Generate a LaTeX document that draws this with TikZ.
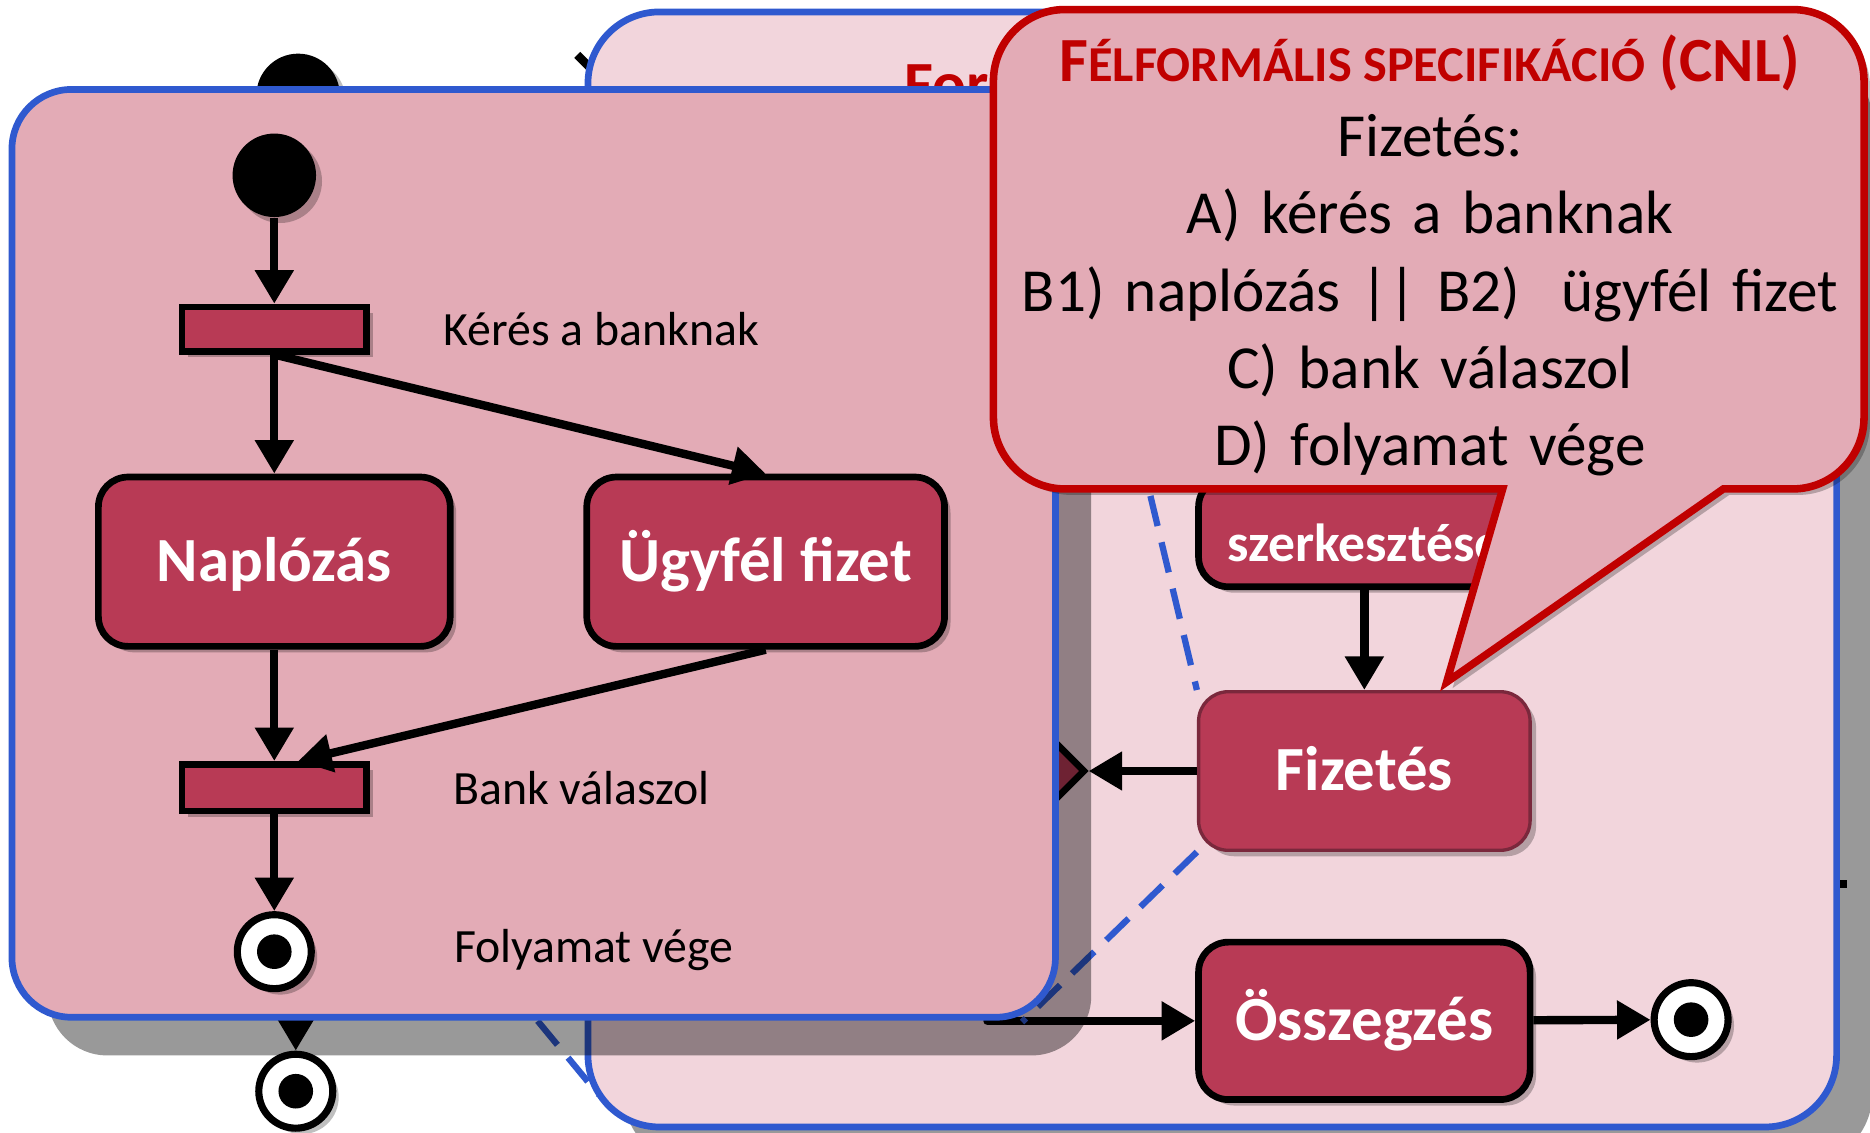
\documentclass[tikz,border=0pt]{standalone}
\usepackage{fontspec}
\setmainfont{Carlito}
\usetikzlibrary{positioning, arrows.meta, shapes.geometric, shadows}
\definecolor{boxred}{RGB}{184,58,85}
\definecolor{panelpink}{RGB}{227,171,182}
\definecolor{backpink}{RGB}{242,213,220}
\definecolor{panelblue}{RGB}{47,89,207}
\definecolor{callred}{RGB}{192,0,0}
\definecolor{fizborder}{RGB}{122,40,60}
\newcommand{\fakesc}[1]{{\fontsize{12}{14}\selectfont #1}}
\tikzset{
  x=0.1mm, y=-0.1mm,
  >={Triangle[length=8pt,width=8.8pt]},
  flow/.style={->, line width=2pt},
  softshadow/.style={drop shadow={fill=black, opacity=0.25, shadow xshift=0.5mm, shadow yshift=-0.5mm}},
  bigshadow/.style={drop shadow={fill=black, opacity=0.4, shadow xshift=3mm, shadow yshift=-3.2mm}},
  panel/.style={rectangle, draw=panelblue, line width=1.6pt, rounded corners=5mm},
  actbox/.style={rectangle, rounded corners=2.5mm, draw=black, line width=1.6pt, fill=boxred,
    text=white, font=\fontsize{15}{18}\selectfont\bfseries, text height=4.5mm, text depth=1.15mm,
    minimum width=29.5mm, minimum height=14.2mm, softshadow},
  boxlabel/.style={text=white, font=\fontsize{12.8}{15}\selectfont\bfseries},
  bar/.style={rectangle, draw=black, line width=1.6pt, fill=boxred, minimum width=15.5mm,
    minimum height=3.7mm, inner sep=0pt, softshadow},
  startdot/.style={circle, fill=black, minimum size=7mm, inner sep=0pt, softshadow},
  enddot/.style={circle, draw=black, line width=1.7pt, fill=white, minimum size=6.2mm, inner sep=0pt, softshadow,
    path picture={\fill[black] (path picture bounding box.center) circle[radius=1.45mm];}},
  steplabel/.style={anchor=west, font=\fontsize{11.4}{13}\selectfont, inner sep=0pt},
  zoomline/.style={draw=panelblue, line width=1.5pt, dash pattern=on 2.6mm off 1.4mm},
  callout/.style={fill=panelpink, draw=callred, line width=1.8pt, softshadow},
  spectitle/.style={text=callred, font=\fontsize{15}{18}\selectfont\bfseries, inner sep=0pt},
}
\begin{document}
\begin{tikzpicture}
\useasboundingbox (0,0) rectangle (1568,950);
\clip (0,0) rectangle (1568,950);
\fill[white] (0,0) rectangle (1568,950);

\node[startdot] (oldstart) at (250,80) {};
\coordinate (oldedge) at (484,46);
\coordinate (oldedgeend) at (506,68);
\draw[line width=2pt] (oldedge) -- (oldedgeend);
\coordinate (oldright) at (1500,741);
\coordinate (oldrightend) at (1549,741);
\draw[line width=2pt] (oldright) -- (oldrightend);
\node[enddot] (oldend) at (248,915) {};
\coordinate (oldin) at (248,820);
\draw[flow] (oldin) -- (oldend);
\coordinate (zoomfar) at (298,671);
\coordinate (zoomcorner) at (502,918);
\draw[zoomline] (zoomfar) -- (zoomcorner);

\node[panel, fill=backpink, minimum width=104.7mm, minimum height=93.5mm, rounded corners=6mm, bigshadow] (backpanel) at (1016.5,477.5) {};
\node[spectitle, anchor=base west] (backtitle) at (758,88.5) {For};

\node[actbox, minimum width=27.8mm, minimum height=9.2mm,
  label={[boxlabel, yshift=-0.9mm]center:szerkesztése}] (szerk) at (1144,446) {};
\node[actbox, draw=fizborder, line width=0.8pt, minimum width=27.8mm, minimum height=13.3mm] (fizetes) at (1144,646.5) {Fizetés};
\node[actbox, minimum width=27.8mm, minimum height=13.2mm] (osszeg) at (1144,856) {Összegzés};
\node[diamond, draw=black, line width=1.6pt, fill=boxred, minimum width=7mm, minimum height=7mm, inner sep=0pt] (dontes) at (875,646.5) {};
\node[enddot] (vege2) at (1418,855) {};
\coordinate (osszin) at (828,856);
\coordinate (zoomtop) at (946,338);
\coordinate (zoombottom) at (857,857);
\draw[flow] (szerk) -- (fizetes);
\draw[flow] (fizetes) -- (dontes);
\draw[flow, line cap=round] (osszin) -- (osszeg);
\draw[flow] (osszeg) -- (vege2);
\draw[zoomline] (zoomtop) -- (fizetes.north west);
\draw[zoomline] (fizetes.south west) -- (zoombottom);

\node[panel, fill=panelpink, minimum width=87.5mm, minimum height=77.8mm, bigshadow] (zoompanel) at (447.5,464) {};
\node[startdot] (start) at (230,147) {};
\node[bar] (fork) at (230,276) {};
\node[steplabel, right=6.1mm of fork] (forklabel) {Kérés a banknak};
\node[actbox] (naplo) at (230,471) {Naplózás};
\node[actbox, minimum width=30mm] (ugyfel) at (642,471) {Ügyfél fizet};
\node[bar, minimum height=3.9mm] (join) at (230,660.5) {};
\node[steplabel, right=6.9mm of join] (joinlabel) {Bank válaszol};
\node[enddot] (vege) at (230,798) {};
\node[steplabel] (vegelabel) at (380,797) {Folyamat vége};
\draw[flow] (start) -- (fork);
\draw[flow] (fork) -- (naplo);
\draw[flow] (fork.south) -- (ugyfel.north);
\draw[flow] (naplo) -- (join);
\draw[flow] (ugyfel.south) -- ([xshift=2mm]join.north);
\draw[flow] (join) -- (vege);

\draw[callout] (833,250) [rounded corners=6mm] -- (833,8) -- (1563,8) -- (1563,410)
  [sharp corners] -- (1445,410) -- (1213,572) -- (1260,410) [rounded corners=6mm] -- (833,410) -- cycle;
\node[spectitle, anchor=base] (spechead) at (1199,68.5) {F\fakesc{ÉLFORMÁLIS SPECIFIKÁCIÓ} (CNL)};
\node[anchor=base, align=center, text width=72mm, inner sep=0pt, font=\fontsize{14.6}{18.4}\selectfont] (spectext) at (1199,131.5)
  {Fizetés:\\ A) kérés a banknak\\ B1) naplózás || B2)\ \ ügyfél fizet\\ C) bank válaszol\\ D) folyamat vége};
\end{tikzpicture}
\end{document}
